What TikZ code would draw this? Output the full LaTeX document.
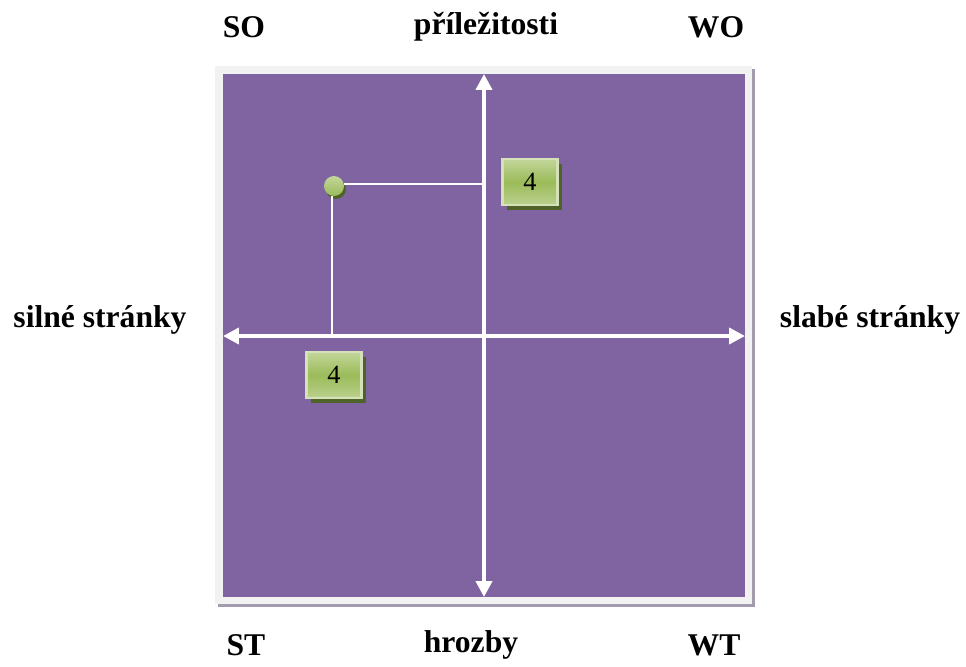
\documentclass[tikz,border=0pt]{standalone}
\usepackage{fontspec}
\setmainfont{Liberation Serif}
\usetikzlibrary{shapes,arrows.meta,positioning,shadows}

\definecolor{swotpurple}{HTML}{8064A2}
\definecolor{framegray}{HTML}{F2F2F2}
\definecolor{shadowgray}{HTML}{A29BAD}
\definecolor{boxgreen}{HTML}{9BBB59}
\definecolor{boxlight}{HTML}{C3D69B}
\definecolor{boxdark}{HTML}{4F6228}

\tikzset{
    axis/.style={white, line width=2.2pt, {Triangle[length=9pt,width=9pt]}-{Triangle[length=9pt,width=9pt]}},
    guide/.style={white, line width=1.2pt},
    label/.style={font=\fontsize{18}{22}\selectfont\bfseries, inner sep=0pt},
    scorebox/.style={draw=boxlight!70!white, line width=1.2pt, top color=boxlight, bottom color=boxlight!80!boxgreen,
        middle color=boxgreen,
        minimum width=55*0.02cm, minimum height=46*0.02cm, inner sep=0pt,
        font=\fontsize{15}{17}\selectfont,
        drop shadow={shadow xshift=4*0.02cm, shadow yshift=-5*0.02cm, fill=boxdark, opacity=1}},
    dot/.style={circle, minimum size=20*0.02cm, inner sep=0pt, top color=boxlight, bottom color=boxgreen,
        drop shadow={shadow xshift=2*0.02cm, shadow yshift=-3*0.02cm, fill=boxdark, opacity=1}}
}

\begin{document}
\begin{tikzpicture}[x=0.02cm, y=-0.02cm]
    \useasboundingbox (0,0) rectangle (966,666);

    % Frame and field
    \fill[shadowgray] (218,69) rectangle (755,607);
    \fill[framegray] (215,66) rectangle (752,604);
    \fill[swotpurple] (223,74) rectangle (745,597);

    % Define axis ends
    \coordinate (top) at (484,74);
    \coordinate (bottom) at (484,597);
    \coordinate (left) at (223,336);
    \coordinate (right) at (745,336);
    \draw[axis] (bottom) -- (top);
    \draw[axis] (left) -- (right);

    % Position of the point
    \coordinate (hit) at (484,184);
    \coordinate (vit) at (332,336);
    \node[dot] (pt) at (334,186) {};
    \draw[guide] (pt.east |- hit) -- (hit);
    \draw[guide] (pt.south -| vit) -- (vit);

    % Scores
    \node[scorebox] (so) at (530,182) {4};
    \node[scorebox] (ss) at (334,375) {4};

    % Labels
    \node[label] (lso) at (244,27) {SO};
    \node[label] (lopp) at (486,27) {příležitosti};
    \node[label] (lwo) at (716,27) {WO};
    \node[label] (lstr) at (100,320) {silné stránky};
    \node[label] (lweak) at (870,320) {slabé stránky};
    \node[label] (lst) at (246,645) {ST};
    \node[label] (lthr) at (471,645) {hrozby};
    \node[label] (lwt) at (714,645) {WT};
\end{tikzpicture}
\end{document}
